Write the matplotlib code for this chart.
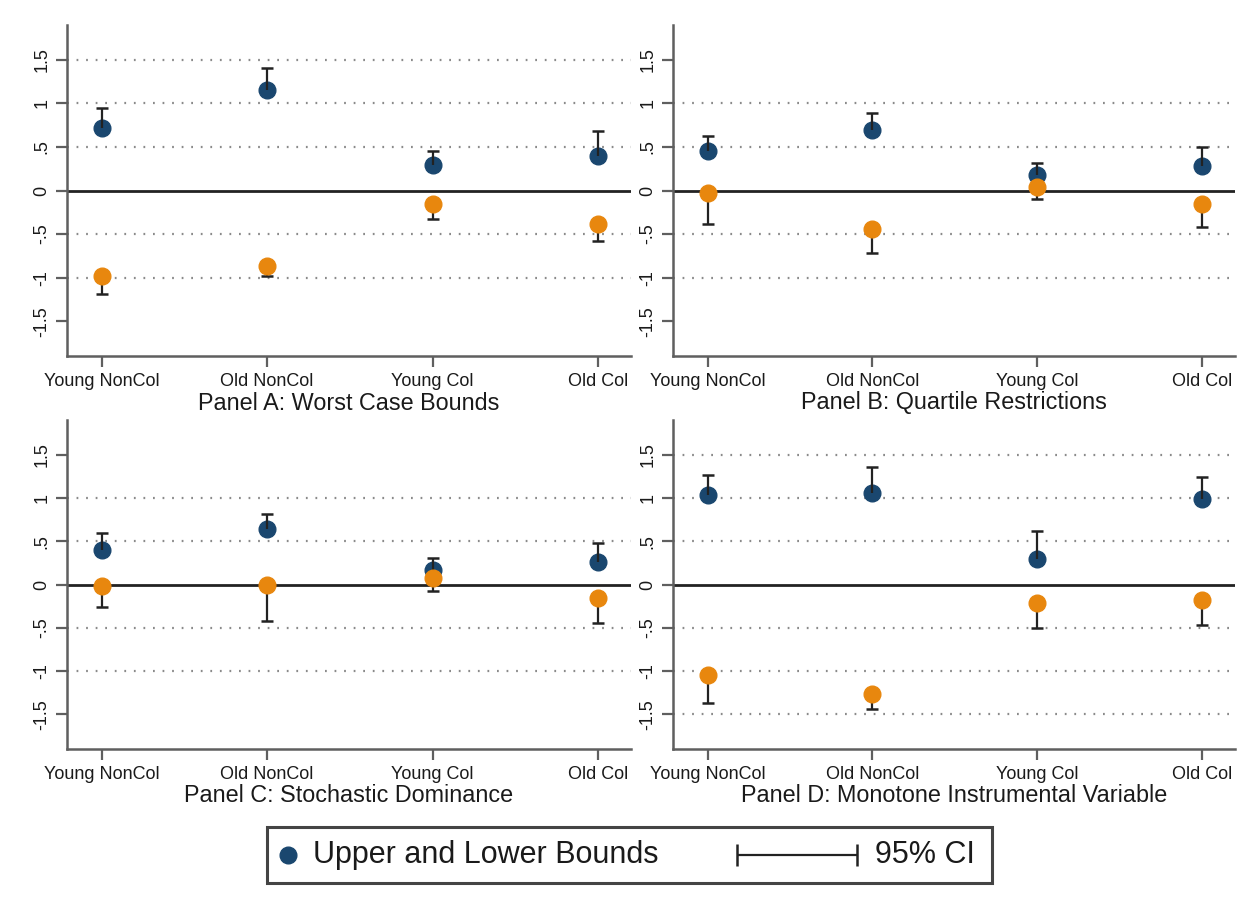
# bounds on the effect by group, four identification strategies
import matplotlib.pyplot as plt
from matplotlib.patches import Rectangle

plt.rcParams['font.family'] = ['Liberation Sans', 'DejaVu Sans']

groups = ['Young NonCol', 'Old NonCol', 'Young Col', 'Old Col']
titles = ['Panel A: Worst Case Bounds', 'Panel B: Quartile Restrictions',
          'Panel C: Stochastic Dominance', 'Panel D: Monotone Instrumental Variable']

# upper bound estimate and upper end of its 95% CI
upper = [[0.715, 1.15, 0.29, 0.40],
         [0.45, 0.69, 0.18, 0.28],
         [0.40, 0.64, 0.17, 0.26],
         [1.03, 1.06, 0.30, 0.99]]
upper_ci = [[0.95, 1.41, 0.45, 0.68],
            [0.63, 0.89, 0.32, 0.50],
            [0.60, 0.82, 0.31, 0.48],
            [1.26, 1.36, 0.62, 1.24]]

# lower bound estimate and lower end of its 95% CI
lower = [[-0.98, -0.865, -0.16, -0.38],
         [-0.03, -0.44, 0.04, -0.16],
         [-0.02, 0.00, 0.07, -0.16],
         [-1.05, -1.27, -0.21, -0.18]]
lower_ci = [[-1.19, -0.98, -0.33, -0.58],
            [-0.38, -0.72, -0.10, -0.42],
            [-0.26, -0.42, -0.07, -0.45],
            [-1.37, -1.44, -0.50, -0.47]]

yticks = [1.5, 1, 0.5, 0, -0.5, -1, -1.5]
ytick_labels = ['1.5', '1', '.5', '0', '-.5', '-1', '-1.5']
grid_levels = [[1.5, 1, 0.5, -0.5, -1],
               [1, 0.5, -0.5, -1],
               [1, 0.5, -0.5, -1],
               [1.5, 1, 0.5, -0.5, -1, -1.5]]

navy = '#1a476f'
orange = '#e8870e'
axis_gray = '#5f5f5f'
txt = '#1a1a1a'

fig = plt.figure(figsize=(12.52, 9.09), dpi=100)

W, H = 1252, 909
rects = [(67, 25, 631, 356), (673, 25, 1235, 356),
         (67, 420, 631, 749), (673, 420, 1235, 749)]

for k in range(4):
    x0, y0, x1, y1 = rects[k]
    ax = fig.add_axes([x0 / W, 1 - y1 / H, (x1 - x0) / W, (y1 - y0) / H])
    xs = list(range(len(groups)))

    for g in grid_levels[k]:
        ax.axhline(g, color='#8a8a8a', lw=1.6, ls=(0, (0.8, 3.5)), zorder=1)
    ax.axhline(0, color='#222222', lw=2.0, zorder=1.5)

    ax.plot(xs, upper[k], 'o', color=navy, ms=12, mec=navy, zorder=2)
    ax.vlines(xs, upper[k], upper_ci[k], color='#222222', lw=1.6, zorder=3)
    ax.plot(xs, upper_ci[k], '_', color='#222222', ms=9, mew=1.8, zorder=3)
    ax.vlines(xs, lower[k], lower_ci[k], color='#222222', lw=1.6, zorder=3)
    ax.plot(xs, lower_ci[k], '_', color='#222222', ms=9, mew=1.8, zorder=3)
    ax.plot(xs, lower[k], 'o', color=orange, ms=12, mec=orange, zorder=4)

    ax.set_xlim(-0.21, 3.2)
    ax.set_ylim(-1.9, 1.9)
    ax.set_xticks(xs)
    ax.set_xticklabels(groups, fontsize=13, color=txt)
    ax.set_yticks(yticks)
    ax.set_yticklabels(ytick_labels, fontsize=13, color=txt, rotation=90, va='center')
    ax.tick_params(axis='both', length=8, width=1.6, color=axis_gray, pad=4)
    for s in ['top', 'right']:
        ax.spines[s].set_visible(False)
    for s in ['left', 'bottom']:
        ax.spines[s].set_color(axis_gray)
        ax.spines[s].set_linewidth(1.8)
    ax.text(0.5, -47 / (y1 - y0), titles[k], transform=ax.transAxes,
            ha='center', va='center', fontsize=16.8, color=txt)

# legend box
lx0, ly0, lx1, ly1 = 267, 827, 992, 883
lax = fig.add_axes([lx0 / W, 1 - ly1 / H, (lx1 - lx0) / W, (ly1 - ly0) / H])
lax.set_xlim(0, lx1 - lx0)
lax.set_ylim(0, 1)
lax.axis('off')
lax.add_patch(Rectangle((0, 0), lx1 - lx0, 1, fill=False, ec='#444444', lw=2.2,
                        transform=lax.transData, clip_on=False))
lax.plot([21], [0.5], 'o', color=navy, ms=12)
lax.text(46, 0.5, 'Upper and Lower Bounds', fontsize=22, va='center', color=txt)
lax.errorbar([530], [0.5], xerr=[[60], [60]], fmt='none', ecolor='#222222',
             elinewidth=1.6, capsize=8, capthick=1.8)
lax.text(608, 0.5, '95% CI', fontsize=22, va='center', color=txt)

fig.savefig('out.png', dpi=100, facecolor='white')
